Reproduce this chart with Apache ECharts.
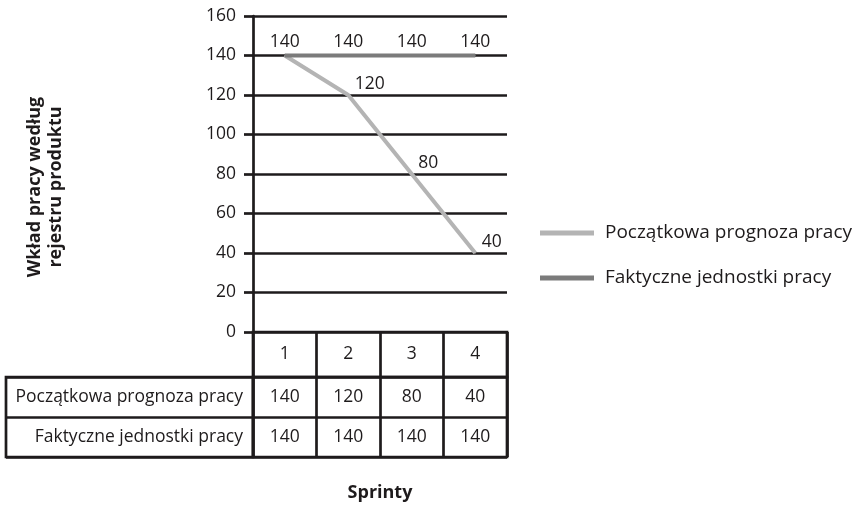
<!DOCTYPE html>
<html>
<head>
<meta charset="utf-8">
<script src="https://cdn.jsdelivr.net/npm/echarts@6/dist/echarts.min.js"></script>
<style>html,body{margin:0;padding:0;background:#fff;}#c{width:862px;height:508px;}</style>
</head>
<body>
<div id="c"></div>
<script>
const categories = ['1', '2', '3', '4'];
const forecastName = 'Początkowa prognoza pracy';
const actualName = 'Faktyczne jednostki pracy';
const forecast = [140, 120, 80, 40];
const actual = [140, 140, 140, 140];
const rowNames = [forecastName, actualName];
const yMin = 0, yMax = 160, yStep = 20;
const yTitle = 'Wkład pracy według\nrejestru produktu';
const xTitle = 'Sprinty';

const FONT = '"Open Sans", "Noto Sans", sans-serif';
const INK = '#1e1b1c';
const LW = 2.7;
const LIGHT = '#b4b4b4';
const DARK = '#7b7b7b';
const FS = 17.5;

const chart = echarts.init(document.getElementById('c'), null, {renderer: 'canvas'});

const tableData = [];
rowNames.forEach((r, ri) => {
  const vals = ri === 0 ? forecast : actual;
  categories.forEach((c, ci) => tableData.push([ci, ri, vals[ci]]));
});

const borderLine = {show: true, lineStyle: {color: INK, width: LW}};
const cellLabel = {show: true, position: 'inside', fontSize: FS, color: INK, fontFamily: FONT,
                   opacity: 1, textBorderWidth: 0, textBorderColor: 'transparent'};

const option = {
  backgroundColor: '#fff',
  animation: false,
  textStyle: {fontFamily: FONT, color: INK},
  grid: [
    {left: 253, top: 16, width: 254, height: 316},
    {left: 253, top: 332, width: 254, height: 45, show: true, borderColor: INK, borderWidth: LW, backgroundColor: 'transparent'},
    {left: 253, top: 377, width: 254, height: 80, show: true, borderColor: INK, borderWidth: LW, backgroundColor: 'transparent'},
    {left: 6, top: 377, width: 247, height: 80, show: true, borderColor: INK, borderWidth: LW, backgroundColor: 'transparent'}
  ],
  xAxis: [
    {gridIndex: 0, type: 'category', data: categories, boundaryGap: true,
     axisLine: {show: false}, axisTick: {show: false}, axisLabel: {show: false}, splitLine: {show: false}},
    {gridIndex: 1, type: 'category', data: categories, boundaryGap: true,
     axisLine: {show: false}, axisTick: {show: false}, axisLabel: {show: false}, splitLine: borderLine},
    {gridIndex: 2, type: 'category', data: categories, boundaryGap: true,
     axisLine: {show: false}, axisTick: {show: false}, axisLabel: {show: false}, splitLine: borderLine},
    {gridIndex: 3, type: 'value', min: 0, max: 1, show: false}
  ],
  yAxis: [
    {gridIndex: 0, type: 'value', min: yMin, max: yMax, interval: yStep,
     axisLine: {show: true, lineStyle: {color: INK, width: LW}},
     axisTick: {show: true, length: 9, lineStyle: {color: INK, width: LW}},
     axisLabel: {fontSize: FS, color: INK, margin: 17, fontFamily: FONT},
     splitLine: {show: true, lineStyle: {color: INK, width: LW}}},
    {gridIndex: 1, type: 'value', min: 0, max: 1, show: false},
    {gridIndex: 2, type: 'category', data: rowNames, inverse: true,
     axisLine: {show: false}, axisTick: {show: false},
     axisLabel: {fontSize: FS, color: INK, margin: 10, fontFamily: FONT},
     splitLine: borderLine},
    {gridIndex: 3, type: 'category', data: rowNames, inverse: true,
     axisLine: {show: false}, axisTick: {show: false}, axisLabel: {show: false},
     splitLine: borderLine}
  ],
  legend: {
    orient: 'vertical', left: 540, top: 222, padding: 0,
    icon: 'rect', itemWidth: 54, itemHeight: 5, itemGap: 23,
    data: [forecastName, actualName],
    textStyle: {fontSize: 19, color: INK, fontFamily: FONT, lineHeight: 22, padding: [0, 0, 0, 6]}
  },
  series: [
    {
      name: forecastName, type: 'line', xAxisIndex: 0, yAxisIndex: 0,
      data: forecast.map((v, i) => ({value: v, label: {show: i > 0}})),
      symbol: 'circle', symbolSize: 1, showSymbol: true,
      lineStyle: {color: LIGHT, width: 4}, itemStyle: {color: LIGHT},
      label: {show: true, position: 'right', distance: 6, offset: [0, -11], fontSize: FS, color: INK, fontFamily: FONT},
      z: 2
    },
    {
      name: actualName, type: 'line', xAxisIndex: 0, yAxisIndex: 0,
      data: actual,
      symbol: 'circle', symbolSize: 1, showSymbol: true,
      lineStyle: {color: DARK, width: 4}, itemStyle: {color: DARK},
      label: {show: true, position: 'top', distance: 4, fontSize: FS, color: INK, fontFamily: FONT},
      z: 3
    },
    {
      type: 'scatter', xAxisIndex: 1, yAxisIndex: 1,
      data: categories.map((c, i) => [i, 0.5, c]),
      symbolSize: 1, itemStyle: {color: 'transparent', opacity: 1},
      label: Object.assign({formatter: p => p.value[2]}, cellLabel),
      silent: true
    },
    {
      type: 'scatter', xAxisIndex: 2, yAxisIndex: 2,
      data: tableData,
      symbolSize: 1, itemStyle: {color: 'transparent', opacity: 1},
      label: Object.assign({formatter: p => String(p.value[2])}, cellLabel),
      silent: true
    }
  ],
  graphic: [
    {type: 'text', x: 45, y: 187, rotation: Math.PI / 2,
     style: {text: yTitle, fontSize: 18, fontWeight: 'bold', fontFamily: FONT, fill: INK,
             align: 'center', verticalAlign: 'middle', lineHeight: 21}},
    {type: 'text', x: 380, y: 493,
     style: {text: xTitle, fontSize: 18, fontWeight: 'bold', fontFamily: FONT, fill: INK,
             align: 'center', verticalAlign: 'middle'}}
  ]
};
chart.setOption(option);
</script>
</body>
</html>
